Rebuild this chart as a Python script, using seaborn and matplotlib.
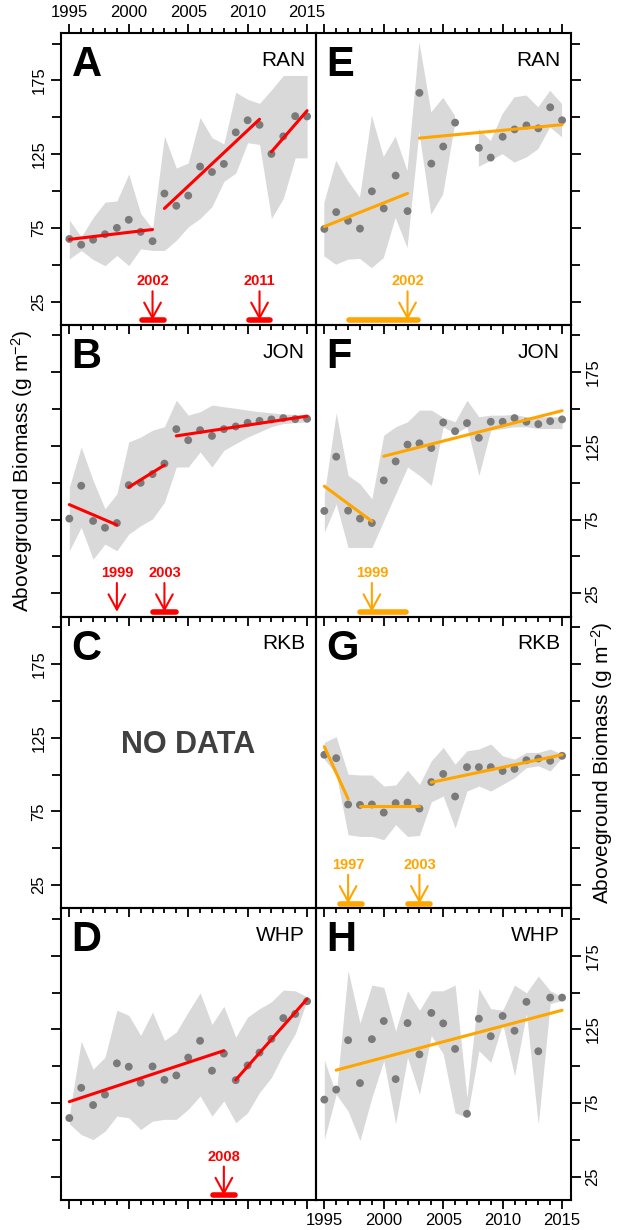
import numpy as np
import matplotlib
matplotlib.use("Agg")
import matplotlib.pyplot as plt
import seaborn as sns
from matplotlib.ticker import MultipleLocator, FixedLocator

years = np.arange(1995, 2016)
nan = np.nan

# --- left column (red) ---
# A  RAN
a_mean = [67.5, 63.6, 67.0, 70.7, 75.0, 80.5, 72.3, 66.0, 98.3, 90.0, 96.9,
          116.6, 112.9, 118.4, 139.8, 148.0, 144.9, 125.2, 137.1, 150.8, 150.6]
a_hi = [80.3, 69.0, 82.0, 92.4, 93.3, 111.5, 84.8, 74.5, 137.3, 115.6, 119.0,
        149.9, 136.2, 132.0, 167.0, 162.2, 159.5, 168.6, 178.4, 178.4, 178.4]
a_lo = [54.0, 59.7, 53.5, 49.4, 56.3, 49.4, 60.8, 59.7, 59.7, 66.6, 75.7,
        81.4, 89.4, 106.5, 112.2, 132.8, 131.6, 81.4, 95.0, 122.5, 122.5]
a_segs = [(1995, 67.2, 2002, 73.9), (2003, 88.2, 2011, 148.7), (2012, 126.6, 2015, 154.5)]
a_breaks = [(2002, 2001.1, 2002.95), (2011, 2010.1, 2011.9)]

# B  JON
b_mean = [75.7, 98.0, 74.1, 69.5, 72.7, 98.4, 100.0, 105.9, 113.0, 136.4, 128.9,
          135.7, 131.8, 136.4, 138.2, 140.7, 142.0, 143.0, 143.9, 143.2, 143.4]
b_hi = [97.0, 124.3, 101.6, 82.3, 92.5, 127.7, 131.0, 135.7, 138.0, 156.0, 145.9,
        148.2, 152.7, 151.6, 150.5, 149.3, 148.2, 147.5, 146.6, 146.4, 146.4]
b_lo = [53.9, 69.8, 48.2, 58.4, 53.9, 65.2, 70.9, 75.5, 86.8, 110.7, 110.7,
        120.9, 110.7, 122.0, 126.6, 131.0, 134.5, 138.0, 140.2, 140.7, 141.4]
b_segs = [(1995, 85.2, 1999, 71.4), (2000, 97.0, 2003, 112.0), (2004, 131.8, 2015, 145.2)]
b_breaks = [(1999, None, None), (2003, 2002.05, 2004.0)]

# D  WHP
d_mean = [64.9, 85.4, 73.7, 80.8, 102.0, 99.7, 88.8, 99.9, 90.8, 93.8, 105.9,
          117.3, 97.0, 108.6, 90.6, 100.6, 109.3, 118.6, 132.7, 135.5, 144.1]
d_hi = [67.0, 117.0, 98.1, 106.1, 138.0, 134.6, 120.9, 136.8, 117.5, 123.2, 136.8,
        149.8, 128.4, 140.7, 119.8, 133.4, 139.1, 143.7, 151.7, 151.2, 147.1]
d_lo = [61.0, 53.7, 50.3, 56.0, 66.2, 65.1, 57.1, 62.8, 64.0, 64.0, 70.8,
        79.9, 66.2, 76.5, 61.7, 68.5, 82.2, 92.4, 108.4, 122.0, 144.8]
d_segs = [(1995, 76.0, 2008, 110.6), (2009, 90.8, 2015, 145.7)]
d_breaks = [(2008, 2007.05, 2008.95)]

# --- right column (orange) ---
# E  RAN
e_mean = [74.3, 85.7, 79.8, 74.5, 99.8, 88.2, 110.5, 86.4, 166.6, 118.6, 130.2,
          146.4, nan, 129.3, 122.7, 136.8, 141.8, 144.5, 142.5, 156.8, 148.0]
e_hi = [92.0, 120.5, 106.8, 95.5, 151.0, 123.2, 136.8, 113.6, 201.0, 153.4, 163.2,
        151.0, nan, 142.0, 134.0, 152.3, 163.6, 164.8, 156.8, 168.0, 159.0]
e_lo = [55.7, 50.0, 53.4, 54.0, 47.7, 54.5, 81.8, 61.4, 139.8, 84.0, 97.7,
        145.4, nan, 116.4, 120.5, 125.0, 119.3, 122.7, 128.4, 143.2, 136.4]
e_segs = [(1995, 75.9, 2002, 98.4), (2003, 135.9, 2015, 145.0)]
e_breaks = [(2002, 1997.1, 2002.9)]

# F  JON
f_mean = [80.9, 117.7, 81.1, 75.7, 72.7, 101.6, 114.5, 125.9, 126.8, 123.6, 140.9,
          135.0, 140.5, 130.5, 141.4, 141.4, 143.9, 141.4, 139.8, 141.8, 143.0]
f_hi = [92.5, 147.5, 105.0, 99.3, 89.1, 132.3, 138.0, 141.4, 149.3, 149.3, 144.3,
        141.4, 156.0, 144.8, 145.9, 145.9, 146.4, 144.8, 144.8, 144.8, 144.8]
f_lo = [66.4, 85.7, 56.1, 56.1, 56.1, 74.3, 92.5, 110.7, 105.0, 98.2, 138.0,
        133.4, 138.0, 105.0, 135.7, 136.8, 138.0, 138.0, 136.8, 136.8, 136.8]
f_segs = [(1995, 97.7, 1999, 73.9), (2000, 118.0, 2015, 148.9)]
f_breaks = [(1999, 1998.0, 2001.9)]

# G  RKB
g_mean = [113.4, 111.1, 79.7, 79.4, 79.7, 74.2, 80.6, 81.0, 76.9, 94.9, 100.4,
          85.1, 105.0, 105.0, 105.0, 102.4, 103.8, 109.7, 110.9, 109.3, 112.7]
g_hi = [121.8, 125.7, 100.2, 99.7, 99.7, 92.2, 92.9, 102.9, 93.3, 109.3, 118.4,
        107.0, 116.1, 117.3, 120.7, 112.7, 110.4, 115.0, 115.0, 117.3, 113.8]
g_lo = [110.4, 100.2, 59.2, 58.0, 58.0, 55.8, 66.0, 58.0, 58.7, 81.5, 85.4,
        63.7, 88.8, 92.2, 88.8, 93.3, 97.9, 104.7, 105.9, 102.4, 111.6]
g_segs = [(1995, 118.9, 1997, 83.5), (1998, 78.5, 2003, 78.5), (2004, 94.7, 2015, 113.4)]
g_breaks = [(1997, 1996.3, 1998.2), (2003, 2002.0, 2003.9)]

# H  WHP
h_mean = [77.4, 84.2, 117.7, 88.6, 118.4, 130.7, 91.3, 129.3, 108.1, 136.2, 129.1,
          111.8, 67.8, 132.3, 120.4, 134.1, 124.1, 143.7, 110.2, 146.6, 146.6]
h_hi = [104.3, 81.0, 164.9, 129.3, 155.1, 153.5, 123.9, 151.2, 138.0, 151.2, 151.2,
        155.1, 78.8, 152.8, 139.1, 138.0, 155.1, 149.8, 161.2, 151.2, 147.1]
h_lo = [50.3, 81.0, 69.6, 49.6, 78.8, 103.8, 61.0, 106.1, 81.0, 120.9, 108.4,
        68.5, 65.1, 110.6, 102.7, 128.9, 93.6, 135.7, 60.5, 142.5, 144.8]
h_segs = [(1996, 97.4, 2015, 138.0)]
h_breaks = []

RED = "#FF0000"
ORANGE = "#FFA500"

sns.set_style("ticks")
plt.rcParams["font.family"] = ["Liberation Sans", "DejaVu Sans"]
plt.rcParams["mathtext.default"] = "regular"
plt.rcParams["text.color"] = "black"
plt.rcParams["xtick.color"] = "black"
plt.rcParams["ytick.color"] = "black"
plt.rcParams["axes.labelcolor"] = "black"

fig = plt.figure(figsize=(6.22, 12.3), dpi=100)

W, H = 622.0, 1230.0
top0, rowh = 33.0, 291.75
colx = [61.0, 316.0]
colw = 255.0

panels = [
    # letter, site, col, row, mean, lo, hi, segs, breaks, colour
    ("A", "RAN", 0, 0, a_mean, a_lo, a_hi, a_segs, a_breaks, RED),
    ("B", "JON", 0, 1, b_mean, b_lo, b_hi, b_segs, b_breaks, RED),
    ("C", "RKB", 0, 2, None, None, None, [], [], RED),
    ("D", "WHP", 0, 3, d_mean, d_lo, d_hi, d_segs, d_breaks, RED),
    ("E", "RAN", 1, 0, e_mean, e_lo, e_hi, e_segs, e_breaks, ORANGE),
    ("F", "JON", 1, 1, f_mean, f_lo, f_hi, f_segs, f_breaks, ORANGE),
    ("G", "RKB", 1, 2, g_mean, g_lo, g_hi, g_segs, g_breaks, ORANGE),
    ("H", "WHP", 1, 3, h_mean, h_lo, h_hi, h_segs, h_breaks, ORANGE),
]

for letter, site, col, row, mean, lo, hi, segs, breaks, clr in panels:
    y0 = 1 - (top0 + (row + 1) * rowh) / H
    ax = fig.add_axes([colx[col] / W, y0, colw / W, rowh / H])
    ax.set_facecolor("none")
    ax.set_zorder(10 - row)

    if mean is not None:
        lo_a = np.array(lo, dtype=float)
        hi_a = np.array(hi, dtype=float)
        ok = ~np.isnan(lo_a)
        ax.fill_between(years, lo_a, hi_a, where=ok, color="#D9D9D9", lw=0, zorder=1)
        sns.scatterplot(x=years, y=mean, ax=ax, color="#7A7A7A", s=32,
                        edgecolor="none", zorder=3, legend=False)
        for x0, v0, x1, v1 in segs:
            sns.lineplot(x=[x0, x1], y=[v0, v1], ax=ax, color=clr, lw=2.2,
                         zorder=4, legend=False)
        for yr, c0, c1 in breaks:
            if c0 is not None:
                ax.plot([c0, c1], [12.5, 12.5], color=clr, lw=4,
                        solid_capstyle="round", zorder=5)
            ax.annotate("", xy=(yr, 12.5), xytext=(yr, 32),
                        arrowprops=dict(arrowstyle="->,head_length=0.55,head_width=0.3",
                                        color=clr, lw=1.5, shrinkA=0, shrinkB=0,
                                        mutation_scale=20), zorder=5)
            ax.text(yr, 34, str(yr), color=clr, fontsize=10.5, fontweight="bold",
                    ha="center", va="bottom", zorder=5)
    else:
        ax.text(0.5, 0.56, "NO DATA", transform=ax.transAxes, fontsize=22,
                fontweight="bold", color="#404040", ha="center", va="center")

    ax.text(0.042, 0.852, letter, transform=ax.transAxes, fontsize=30,
            fontweight="bold", ha="left", va="baseline", color="black")
    ax.text(0.957, 0.887, site, transform=ax.transAxes, fontsize=15,
            ha="right", va="baseline", color="black")

    ax.set_xlim(1994.3, 2015.75)
    ax.set_ylim(9.3, 207.2)
    ax.set_xlabel("")
    ax.set_ylabel("")
    ax.xaxis.set_major_locator(MultipleLocator(5))
    ax.xaxis.set_minor_locator(MultipleLocator(1))
    ax.yaxis.set_major_locator(FixedLocator([25, 75, 125, 175]))
    ax.yaxis.set_minor_locator(FixedLocator([50, 100, 150, 200]))

    for sp in ax.spines.values():
        sp.set_visible(True)
        sp.set_linewidth(1.5)
        sp.set_color("black")

    ax.tick_params(axis="x", which="both", direction="out", bottom=True,
                   top=(row == 0), labelbottom=(row == 3 and col == 1),
                   labeltop=(row == 0 and col == 0), labelsize=12, width=1.3, pad=3,
                   colors="black")
    ax.tick_params(axis="x", which="major", length=6.5)
    ax.tick_params(axis="x", which="minor", length=3.5)

    if col == 0:
        ax.tick_params(axis="y", which="both", direction="out", left=True, right=False,
                       labelleft=(row in (0, 2)), labelright=False)
    else:
        ax.tick_params(axis="y", which="both", direction="out", left=False, right=True,
                       labelleft=False, labelright=(row in (1, 3)))
    ax.tick_params(axis="y", which="major", length=7.5, width=1.3, labelsize=12, pad=3,
                   colors="black")
    ax.tick_params(axis="y", which="minor", length=6.5, width=1.3, colors="black")
    for t in ax.yaxis.get_major_ticks():
        t.label1.set_rotation(90)
        t.label1.set_va("center")
        t.label2.set_rotation(90)
        t.label2.set_va("center")

ylab = r"Aboveground Biomass (g m$^{-2}$)"
fig.text(22 / W, 1 - (top0 + 1.5 * rowh) / H, ylab, rotation=90, fontsize=15,
         ha="center", va="center", color="black")
fig.text(602 / W, 1 - (top0 + 2.5 * rowh) / H, ylab, rotation=90, fontsize=15,
         ha="center", va="center", color="black")

fig.savefig("out.png", dpi=100, facecolor="white")
